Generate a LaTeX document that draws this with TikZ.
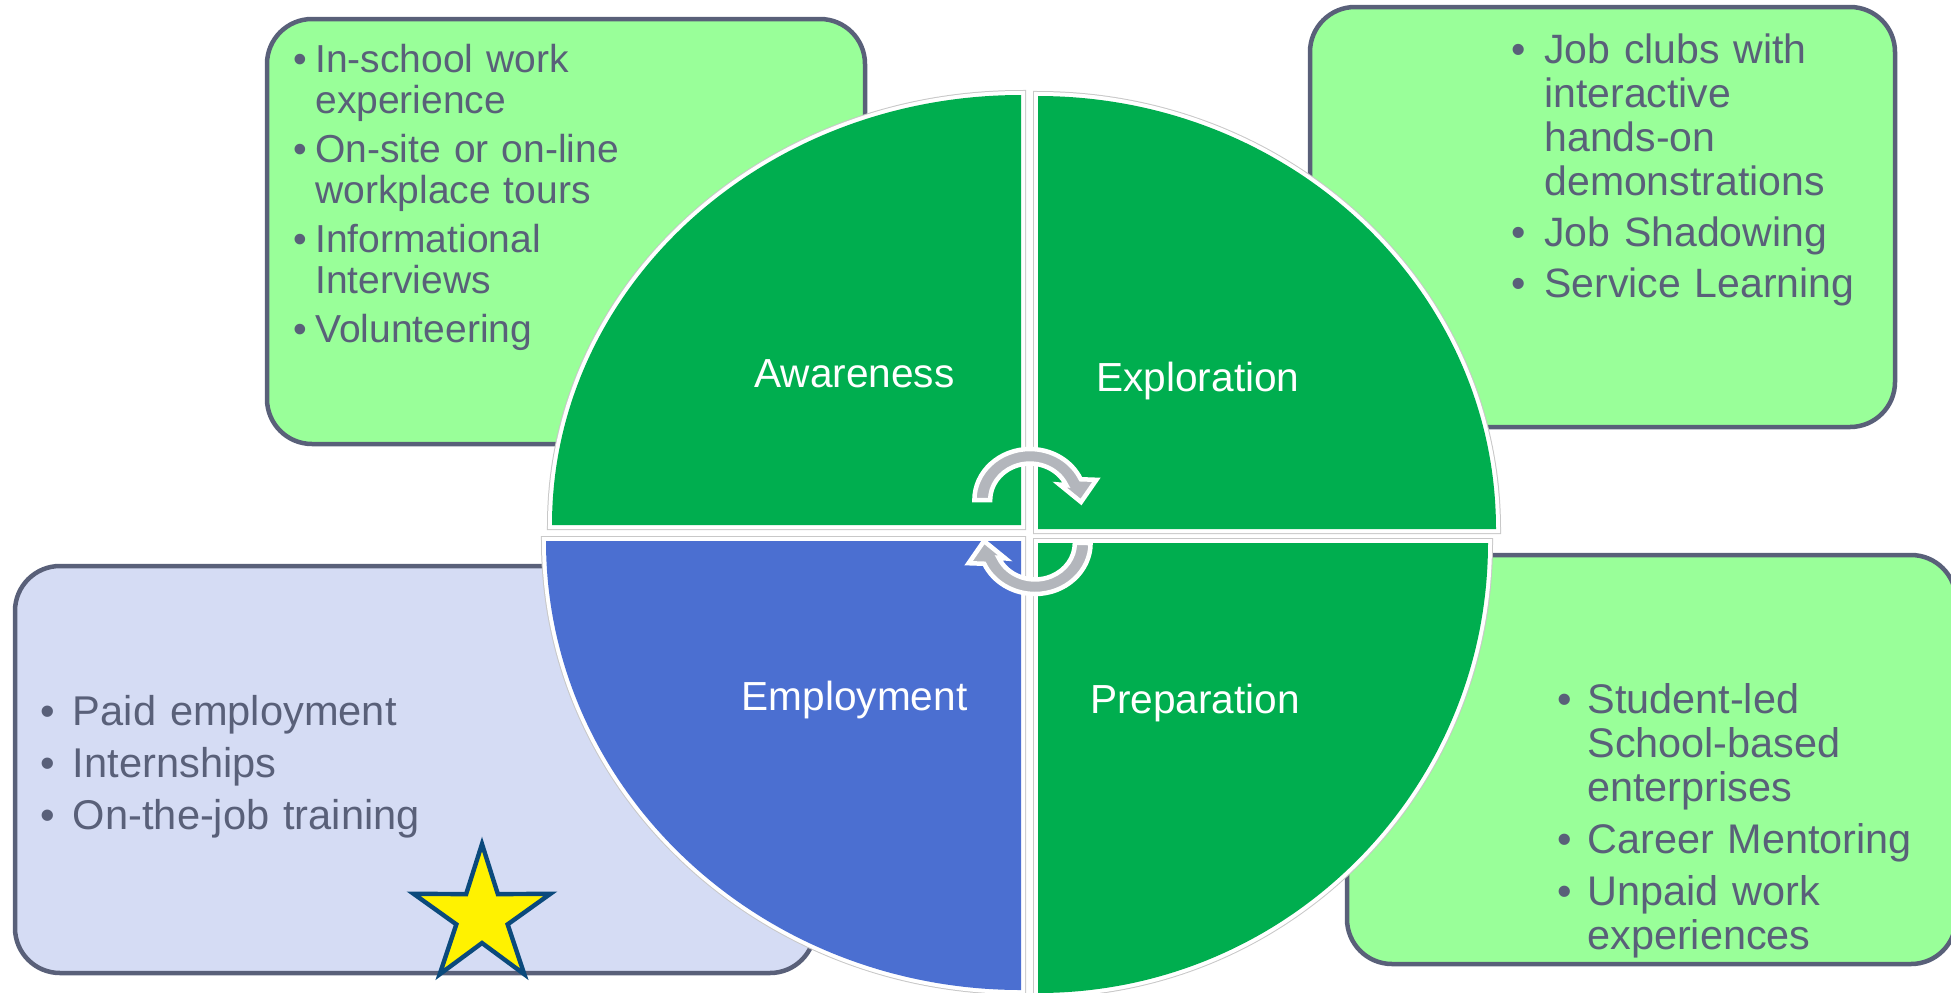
\documentclass[tikz,border=0pt]{standalone}
\usepackage{fontspec}
\setmainfont{Liberation Sans}
\definecolor{panelgreen}{HTML}{99FF99}
\definecolor{panelblue}{HTML}{D5DCF4}
\definecolor{edgegray}{HTML}{596079}
\definecolor{inkgray}{HTML}{596079}
\definecolor{quadgreen}{HTML}{00AE4F}
\definecolor{quadblue}{HTML}{4B6FD1}
\definecolor{arrowgray}{HTML}{B3B6BC}
\definecolor{halo}{HTML}{C8C8C8}
\definecolor{starblue}{HTML}{0B4A7C}
% bullet with a hanging indent of #1
\newcommand{\bul}[1]{\noindent\hangindent=#1\hangafter=1\makebox[#1][l]{\textbullet}}
\begin{document}
\begin{tikzpicture}[x=0.5pt,y=0.5pt,
  panel/.style={draw=edgegray, line width=2.25pt, rounded corners=22.5pt},
  bulletlist/.style={anchor=base west, inner sep=0pt, text width=#1, align=left, text=inkgray},
  quadhalo/.style={draw=halo, line width=5pt},
  quadedge/.style={draw=white, line width=4pt},
  phase/.style={anchor=base, inner sep=0pt, text=white, font=\fontsize{20.3pt}{24pt}\selectfont},
  cyclearrow/.style={fill=arrowgray, draw=white, line width=2.25pt, line join=miter},
  starshape/.style={fill=yellow, draw=starblue, line width=2.2pt, line join=miter}]
\useasboundingbox (0,0) rectangle (1951,-992);

% activity panels
\draw[panel, fill=panelgreen] (267,-19) rectangle (865,-444);
\draw[panel, fill=panelgreen] (1310,-7) rectangle (1895,-427);
\draw[panel, fill=panelblue] (15,-566) rectangle (815,-973);
\draw[panel, fill=panelgreen] (1347,-555) rectangle (1956,-964);

\node[bulletlist=230pt, font=\fontsize{19.5pt}{20.25pt}\selectfont] (awarelist) at (293,-72.7)
  {\setlength{\parskip}{4.5pt}%
   \bul{11pt}In-school work\newline experience\par
   \bul{11pt}On-site or on-line\newline workplace tours\par
   \bul{11pt}Informational\newline Interviews\par
   \bul{11pt}Volunteering\par};

\node[bulletlist=230pt, font=\fontsize{20.5pt}{22pt}\selectfont] (explorelist) at (1511,-63)
  {\setlength{\parskip}{3.5pt}%
   \bul{16.5pt}Job clubs with\newline interactive\newline hands-on\newline demonstrations\par
   \bul{16.5pt}Job Shadowing\par
   \bul{16.5pt}Service Learning\par};

\node[bulletlist=230pt, font=\fontsize{20.8pt}{22pt}\selectfont] (employlist) at (40,-725)
  {\setlength{\parskip}{4pt}%
   \bul{16.3pt}Paid employment\par
   \bul{16.3pt}Internships\par
   \bul{16.3pt}On-the-job training\par};

\node[bulletlist=230pt, font=\fontsize{20.7pt}{22pt}\selectfont] (preplist) at (1557,-713)
  {\setlength{\parskip}{4pt}%
   \bul{15pt}Student-led\newline School-based\newline enterprises\par
   \bul{15pt}Career Mentoring\par
   \bul{15pt}Unpaid work\newline experiences\par};

% four quadrants of the cycle
\foreach \layer in {quadhalo, quadedge} {
  \path[\layer] (1021,-525) -- ++(-469,0) arc[start angle=180, end angle=90, x radius=469, y radius=430] -- cycle;
  \path[\layer] (1038,-529) -- ++(0,433) arc[start angle=90, end angle=0, x radius=458, y radius=433] -- cycle;
  \path[\layer] (1021,-541) -- ++(-475,0) arc[start angle=180, end angle=270, x radius=475, y radius=449] -- cycle;
  \path[\layer] (1038,-543) -- ++(450,0) arc[start angle=0, end angle=-90, x radius=450, y radius=450] -- cycle;
}
\fill[quadgreen] (1021,-525) -- ++(-469,0) arc[start angle=180, end angle=90, x radius=469, y radius=430] -- cycle;
\fill[quadgreen] (1038,-529) -- ++(0,433) arc[start angle=90, end angle=0, x radius=458, y radius=433] -- cycle;
\fill[quadblue] (1021,-541) -- ++(-475,0) arc[start angle=180, end angle=270, x radius=475, y radius=449] -- cycle;
\fill[quadgreen] (1038,-543) -- ++(450,0) arc[start angle=0, end angle=-90, x radius=450, y radius=450] -- cycle;

\node[phase] (awareness) at (854.5,-387) {Awareness};
\node[phase] (exploration) at (1198,-391) {Exploration};
\node[phase] (employment) at (854.5,-710) {Employment};
\node[phase] (preparation) at (1195,-713) {Preparation};

% circular arrows in the middle (slightly wider than tall)
\foreach \cx/\cy/\rot in {1030/-500/0, 1035/-543/180} {
  \begin{scope}[shift={(\cx,\cy)}, xscale=1.09, rotate=\rot]
    \path[cyclearrow] (-51,0) arc[start angle=180, end angle=24, radius=51]
      -- (60.9,20.2) -- (46.8,-2.0) -- (27.2,15.4) -- (33.3,14.8)
      arc[start angle=24, end angle=180, radius=36.5] -- cycle;
  \end{scope}
}

% star
\begin{scope}[shift={(482,-916)}]
  \draw[starshape] (90:72) -- (126:27) -- (162:72) -- (198:27) -- (234:72) -- (270:27)
    -- (306:72) -- (342:27) -- (18:72) -- (54:27) -- cycle;
\end{scope}
\end{tikzpicture}
\end{document}
